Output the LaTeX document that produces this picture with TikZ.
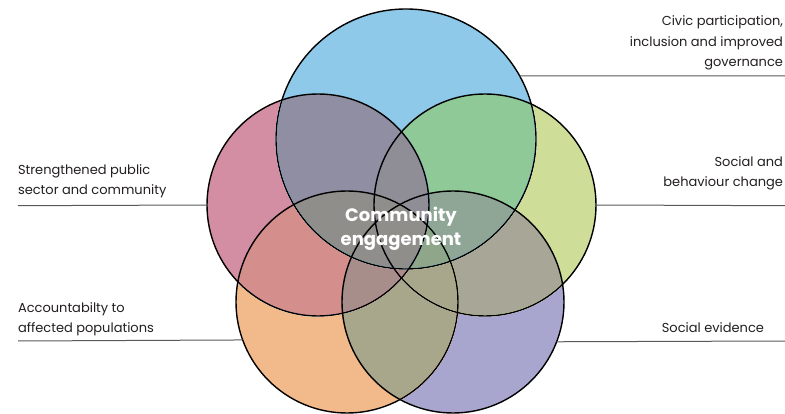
\documentclass[tikz,border=0pt]{standalone}
\usepackage{fontspec}
\setmainfont{Poppins}
\definecolor{cblue}{HTML}{8FC9E9}
\definecolor{cpink}{HTML}{D48EA3}
\definecolor{cgreen}{HTML}{CEDD97}
\definecolor{corange}{HTML}{F2B98B}
\definecolor{cpurple}{HTML}{A8A6CF}
\definecolor{labtext}{HTML}{231F20}
\definecolor{leadc}{HTML}{5A5A5A}
\begin{document}
\begin{tikzpicture}[x=1pt,y=-1pt,
  venn/.style={circle, inner sep=0pt, outer sep=0pt, draw=black, line width=1.4pt},
  lead/.style={draw=leadc, line width=1pt},
  lab/.style={inner sep=0pt, outer sep=0pt, text=labtext, font=\fontsize{13}{20.5}\selectfont},
  core/.style={inner sep=0pt, text=white, font=\fontsize{18}{24.5}\selectfont\bfseries, align=center}]
\fill[white] (0,0) rectangle (785,414);
\useasboundingbox (0,0) rectangle (785,414);
% leader line ends
\coordinate (civicR) at (785,76);
\coordinate (sbcR) at (785,205.7);
\coordinate (evidR) at (785,341);
\coordinate (strL) at (18,205.7);
\coordinate (accL) at (18,341);
% circles
\begin{scope}[blend mode=darken]
\node[venn, minimum size=260pt, fill=cblue] (blue) at (406,139) {};
\node[venn, minimum size=222pt, fill=cpink] (pink) at (318,205) {};
\node[venn, minimum size=222pt, fill=cgreen] (green) at (485,205) {};
\node[venn, minimum size=222pt, fill=corange] (orange) at (347,302) {};
\node[venn, minimum size=222pt, fill=cpurple] (purple) at (453,302) {};
\end{scope}
\draw[lead] (blue.29) -- (civicR);
\draw[lead] (green.east) -- (sbcR);
\draw[lead] (purple.339.4) -- (evidR);
\draw[lead] (strL) -- (pink.west);
\draw[lead] (accL) -- (orange.200.6);
% labels (base anchor = baseline of last line)
\node[lab, anchor=base east, align=right] (civic) at (783,67) {Civic participation,\\inclusion and improved\\governance};
\node[lab, anchor=base east, align=right] (sbc) at (783,187) {Social and\\behaviour change};
\node[lab, anchor=base east] (evid) at (764,332) {Social evidence};
\node[lab, anchor=base west, align=left] (str) at (18,195) {Strengthened public\\sector and community};
\node[lab, anchor=base west, align=left] (acc) at (18,333) {Accountabilty to\\affected populations};
\node[core, anchor=base] (ce) at (401,246) {Community\\engagement};
\end{tikzpicture}
\end{document}
